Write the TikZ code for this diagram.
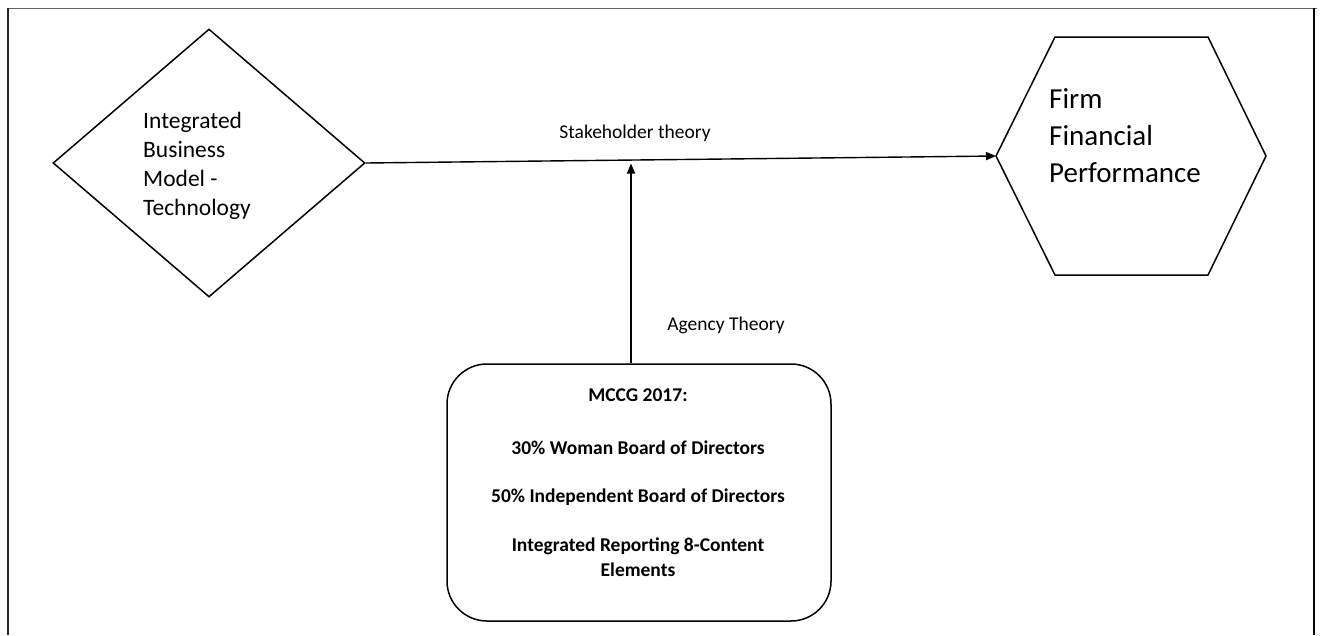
\documentclass[tikz,border=0pt]{standalone}
\usepackage{fontspec}
\setmainfont{Carlito}
\usetikzlibrary{shapes.geometric,arrows.meta}
\begin{document}
\begin{tikzpicture}[x=1pt,y=-1pt,
  shapeline/.style={draw=black, line width=1.5pt},
  tipline/.style={-{Triangle[length=10pt,width=8pt]}, line width=1.4pt},
  lbl/.style={font=\fontsize{19.5}{23}\selectfont, inner sep=0pt}
]
\useasboundingbox (0,0) rectangle (1322,635);

% page frame
\draw[black!60, line width=1pt] (7,8) -- (1317,8);
\draw[black!85, line width=2pt] (8,8) -- (8,635);
\draw[black, line width=2pt] (1314,8) -- (1314,635);

% business model diamond
\node[diamond, shapeline, minimum width=312pt, minimum height=268pt, inner sep=0pt] (bm) at (209,163) {};
\node[font=\fontsize{23.5}{29}\selectfont, align=left, anchor=west, inner sep=0pt] (bmtext) at (143,165.5)
  {Integrated\\ Business\\ Model -\\ Technology};

% financial performance hexagon
\coordinate (hexW) at (996,156);
\coordinate (hexNW) at (1055,37);
\coordinate (hexNE) at (1208,37);
\coordinate (hexE) at (1266,156);
\coordinate (hexSE) at (1208,275);
\coordinate (hexSW) at (1055,275);
\draw[shapeline, line join=miter] (hexW) -- (hexNW) -- (hexNE) -- (hexE) -- (hexSE) -- (hexSW) -- cycle;
\node[font=\fontsize{29}{37}\selectfont, align=left, anchor=west, inner sep=0pt] (fptext) at (1049,135.5)
  {Firm\\ Financial\\ Performance};

% governance box
\node[shapeline, rounded corners=40pt, minimum width=384pt, minimum height=257pt, inner sep=0pt] (mccg) at (639,492.5) {};
\node[font=\bfseries\fontsize{19.5}{25}\selectfont, align=center, inner sep=0pt] (mccgtext) at (638,483)
  {MCCG 2017:\\[28pt]
   30\% Woman Board of Directors\\[23pt]
   50\% Independent Board of Directors\\[24pt]
   Integrated Reporting 8-Content\\
   Elements};

% connectors
\draw[tipline] (bm.east) -- (hexW);
\coordinate (up) at (631,163.5);
\draw[tipline] (mccg.north -| up) -- (up);

% theory labels
\node[lbl] (stake) at (635,133) {Stakeholder theory};
\node[lbl] (agency) at (726,325) {Agency Theory};
\end{tikzpicture}
\end{document}
